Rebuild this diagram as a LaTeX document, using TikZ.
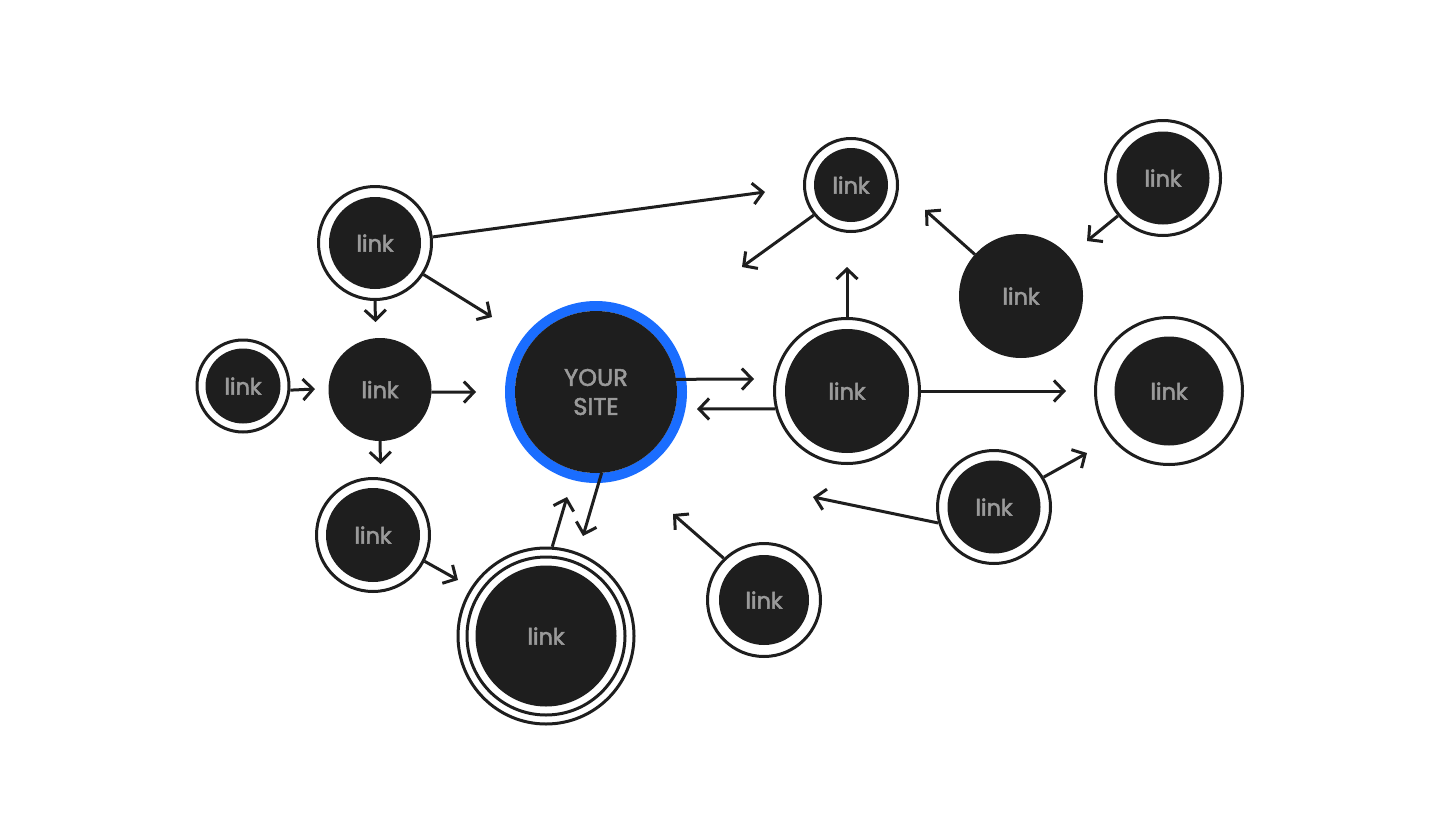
\documentclass[tikz,border=0pt]{standalone}
\usepackage{fontspec}
\setmainfont{Poppins}[FakeBold=2.2]
\usetikzlibrary{arrows.meta}
\definecolor{ink}{HTML}{1E1E1E}
\definecolor{txt}{HTML}{9A9A9A}
\definecolor{siteblue}{HTML}{1A6DFF}
\begin{document}
\begin{tikzpicture}[x=1pt,y=-1pt,
  ring/.style={circle,draw=ink,line width=3pt,fill=white,inner sep=0pt},
  disc/.style={circle,fill=ink,inner sep=0pt,outer sep=0pt,text=txt,font=\fontsize{22.5}{27}\selectfont},
  conn/.style={draw=ink,line width=3pt,-{Straight Barb[length=10pt,width=21pt]}}]
\useasboundingbox[fill=white] (0,0) rectangle (1440,827);

% nodes
\node[ring,minimum size=113pt] (A) at (375,243) {};
\node[disc,minimum size=92pt] (Ai) at (A) {link};
\node[ring,minimum size=92pt] (B) at (243,386) {};
\node[disc,minimum size=75pt] (Bi) at (B) {link};
\node[disc,minimum size=103pt] (C) at (380,389.5) {link};
\node[ring,minimum size=113pt] (D) at (373,535) {};
\node[disc,minimum size=94pt] (Di) at (D) {link};
\node[ring,minimum size=176pt] (E) at (546,636) {};
\node[ring,minimum size=158pt] (Em) at (E) {};
\node[disc,minimum size=141pt] (Ei) at (E) {link};
\node[circle,draw=siteblue,line width=10pt,minimum size=172pt,inner sep=0pt] (YSring) at (596,392) {};
\node[disc,minimum size=162pt,align=center,font=\fontsize{24}{29}\selectfont] (YS) at (YSring) {YOUR\\SITE};
\node[ring,minimum size=93pt] (F) at (851,185) {};
\node[disc,minimum size=74pt] (Fi) at (F) {link};
\node[ring,minimum size=115pt] (G) at (1163,178) {};
\node[disc,minimum size=93pt] (Gi) at (G) {link};
\node[disc,minimum size=124pt] (H) at (1021,296) {link};
\node[ring,minimum size=145pt] (I) at (847,391) {};
\node[disc,minimum size=124pt] (Ii) at (I) {link};
\node[ring,minimum size=147pt] (J) at (1169,391) {};
\node[disc,minimum size=109pt] (Ji) at (J) {link};
\node[ring,minimum size=113pt] (K) at (994,507) {};
\node[disc,minimum size=93pt] (Ki) at (K) {link};
\node[ring,minimum size=113pt] (L) at (764,600) {};
\node[disc,minimum size=90pt] (Li) at (L) {link};

% free ends
\coordinate (t1) at (765,192);
\coordinate (t2) at (375.5,322);
\coordinate (t3) at (492,317);
\coordinate (t4) at (315,389);
\coordinate (t5) at (476,392);
\coordinate (t6) at (380.5,464);
\coordinate (t7) at (458,580);
\coordinate (t8) at (567,497);
\coordinate (t9) at (583,536);
\coordinate (t10) at (754,379);
\coordinate (t11) at (697,409);
\coordinate (t12) at (847,267);
\coordinate (t13) at (1066,391);
\coordinate (t14) at (742,267);
\coordinate (t15) at (925,210);
\coordinate (t16) at (1087,241);
\coordinate (t17) at (1087,453);
\coordinate (t18) at (813,497);
\coordinate (t19) at (673,514);

% connectors
\draw[conn] (A.6) -- (t1);
\draw[conn] (A.south) -- (t2);
\draw[conn] (A.-33) -- (t3);
\draw[conn] (B.-5) -- (t4);
\draw[conn] (C.-3) -- (t5);
\draw[conn] (C.south) -- (t6);
\draw[conn] (D.-27) -- (t7);
\draw[conn] (E.86) -- (t8);
\draw[conn] (YS.-86) -- (t9);
\draw[conn] (YS.9) -- (t10);
\draw[conn] (I.194) -- (t11);
\draw[conn] (I.north) -- (t12);
\draw[conn] (I.east) -- (t13);
\draw[conn] (F.219) -- (t14);
\draw[conn] (H.138) -- (t15);
\draw[conn] (G.220) -- (t16);
\draw[conn] (K.31) -- (t17);
\draw[conn] (K.196) -- (t18);
\draw[conn] (L.134) -- (t19);
\end{tikzpicture}
\end{document}
